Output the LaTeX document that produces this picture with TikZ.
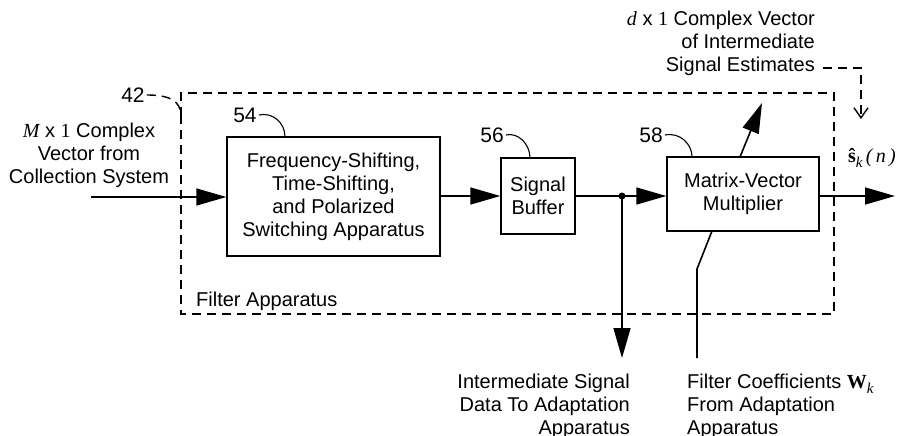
\documentclass[tikz,border=0pt]{standalone}
\usepackage{fontspec}
\setmainfont{Liberation Sans}
\newfontfamily\tms{Liberation Serif}
\usetikzlibrary{arrows.meta}
\tikzset{
  blk/.style={draw, line width=1.4pt, align=center, inner sep=0pt},
  lbl/.style={inner sep=0pt, font=\fontsize{20}{23}\selectfont},
  num/.style={inner sep=0pt, font=\fontsize{21}{23}\selectfont},
  flow/.style={line width=1.6pt, -{Triangle[length=30pt, width=17pt]}},
  wire/.style={line width=1.6pt},
  lead/.style={line width=1.1pt},
  dsh/.style={line width=1.4pt, dash pattern=on 9pt off 6pt},
}
\newcommand{\subk}{\raisebox{-5pt}{\fontsize{15}{15}\selectfont\tms\itshape k}}
\begin{document}
\begin{tikzpicture}[x=1pt,y=-1pt]
\useasboundingbox (0,0) rectangle (902,436);
% filter apparatus dashed box
\draw[dsh] (181,115) -- (181,314) -- (834,314) -- (834,93) -- (181,93) -- (181,115);
\node[num] (n42) at (133,95) {42};
\draw[dsh] (n42.east) ++(2,0) .. controls (168,95) and (181,100) .. (181,116);
\node[lbl, anchor=west] (fa) at (196,301) {Filter Apparatus};

% blocks
\node[blk, minimum width=213pt, minimum height=119pt, lbl] (b54) at (333.5,196.5)
  {Frequency-Shifting,\\Time-Shifting,\\and Polarized\\Switching Apparatus};
\node[blk, minimum width=74pt, minimum height=76pt, lbl] (b56) at (538,196)
  {Signal\\Buffer};
\node[blk, minimum width=152pt, minimum height=74pt, lbl] (b58) at (743,194)
  {Matrix-Vector\\Multiplier};

% reference numbers
\node[num] (n54) at (245,115) {54};
\draw[lead] (n54.east) ++(2,0) .. controls (272,112) and (285,122) .. (285,137);
\node[num] (n56) at (492,135) {56};
\draw[lead] (n56.east) ++(2,0) .. controls (518,132) and (530,144) .. (530,158);
\node[num] (n58) at (651,135) {58};
\draw[lead] (n58.east) ++(2,0) .. controls (680,132) and (692,144) .. (692,157);

% input
\node[lbl, align=center] (inl) at (89,155)
  {{\tms\itshape M} x {\tms 1} Complex\\Vector from\\Collection System};
\coordinate (in0) at (91,197);
\draw[flow] (in0) -- (b54.west |- in0);
\draw[flow] (b54.east |- 0,196) -- (b56.west |- 0,196);

% junction
\coordinate (jn) at (622,196);
\draw[flow] (b56.east |- jn) -- (b58.west |- jn);
\fill (jn) circle (3.5pt);
\coordinate (dn) at (622,358);
\draw[flow] (jn) -- (dn);

% output
\coordinate (out) at (895,196);
\draw[flow] (b58.east |- out) -- (out);
\node[inner sep=0pt, font=\fontsize{20}{23}\selectfont] (sk) at (872,158)
  {{\tms\bfseries\^{s}}\subk\,{\tms\itshape (\,n\,)}};

% intermediate estimates
\coordinate (up) at (762,103);
\draw[flow] (740,157) -- (up);
\node[lbl, align=right, anchor=east] (est) at (815,43)
  {{\tms\itshape d} x {\tms 1} Complex Vector\\of Intermediate\\Signal Estimates};
\coordinate (estv) at (861,119);
\draw[dsh, -{Straight Barb[length=10pt, width=14pt, line width=1.4pt]}]
  ([xshift=8pt]est.east |- 0,68) -- (861,68) -- (estv);

% filter coefficients
\coordinate (fc) at (697,358);
\draw[wire] (fc) -- (697,269) -- (712,231);

% bottom labels
\node[lbl, align=right, anchor=east] (idl) at (630,406)
  {Intermediate Signal\\Data To Adaptation\\Apparatus};
\node[lbl, align=left, anchor=west] (fcl) at (687,406)
  {Filter Coefficients {\tms\bfseries W}\subk\\From Adaptation\\Apparatus};
\end{tikzpicture}
\end{document}
